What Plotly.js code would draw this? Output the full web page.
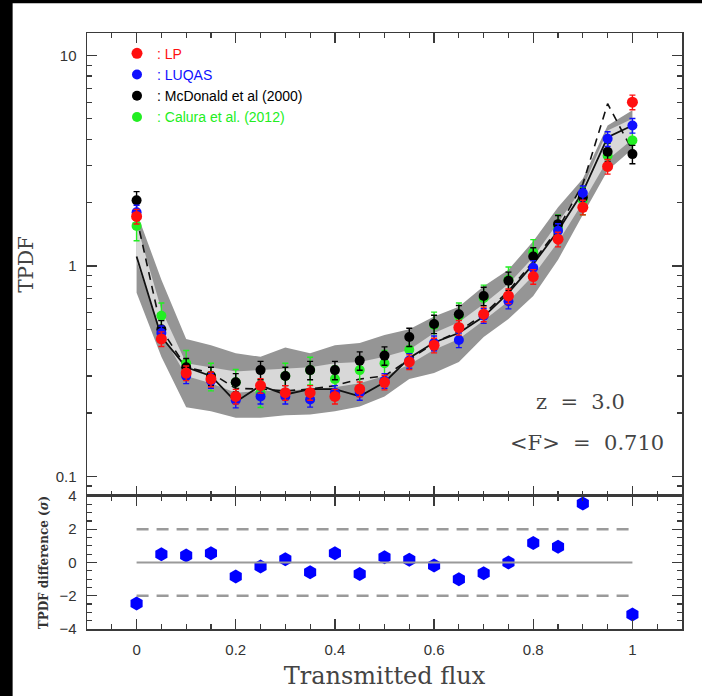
<!DOCTYPE html>
<html><head><meta charset="utf-8">
<script src="https://cdn.plot.ly/plotly-3.0.1.min.js"></script>
<style>html,body{margin:0;padding:0;background:#000;}</style>
</head><body><div id="chart" style="width:702px;height:696px;"></div>
<script>
// ---------- data ----------
const flux = [0,0.05,0.1,0.15,0.2,0.25,0.3,0.35,0.4,0.45,0.5,0.55,0.6,0.65,0.7,0.75,0.8,0.85,0.9,0.95,1.0];

const lpTPDF      = [1.72,0.45,0.31,0.29,0.24,0.27,0.25,0.25,0.24,0.26,0.28,0.35,0.42,0.51,0.59,0.72,0.89,1.34,1.90,2.97,6.0];
const luqasTPDF   = [1.80,0.48,0.30,0.285,0.23,0.24,0.24,0.232,0.25,0.25,0.285,0.355,0.43,0.445,0.58,0.68,0.98,1.47,2.22,4.02,4.65];
const mcdTPDF     = [2.05,0.50,0.33,0.30,0.28,0.32,0.30,0.32,0.32,0.355,0.375,0.46,0.53,0.59,0.72,0.85,1.11,1.58,2.12,3.49,3.40];
const caluraTPDF  = [1.55,0.58,0.345,0.30,0.28,0.25,0.30,0.32,0.29,0.32,0.345,0.40,0.525,0.58,0.705,0.86,1.16,1.52,2.06,3.34,3.95];

const modelSolid  = [1.11,0.46,0.33,0.30,0.226,0.27,0.245,0.26,0.26,0.24,0.28,0.365,0.433,0.48,0.575,0.745,1.02,1.47,2.25,4.09,4.65];
const modelDashed = [1.70,0.50,0.33,0.31,0.262,0.26,0.255,0.26,0.27,0.29,0.30,0.36,0.43,0.49,0.59,0.76,1.05,1.50,2.45,5.90,3.53];

const darkUpper   = [1.80,0.86,0.45,0.42,0.385,0.37,0.41,0.385,0.42,0.43,0.47,0.50,0.575,0.64,0.80,0.96,1.31,1.90,2.60,4.65,5.5];
const darkLower   = [0.745,0.37,0.213,0.204,0.19,0.19,0.195,0.197,0.204,0.215,0.24,0.29,0.31,0.35,0.46,0.56,0.72,1.07,1.75,2.84,3.6];
const lightUpper  = [1.58,0.62,0.345,0.33,0.315,0.32,0.325,0.33,0.345,0.35,0.37,0.40,0.48,0.54,0.66,0.82,1.10,1.60,2.35,4.4,5.0];
const lightLower  = [1.05,0.48,0.30,0.277,0.25,0.255,0.255,0.26,0.265,0.277,0.30,0.34,0.40,0.45,0.55,0.68,0.90,1.30,2.0,3.2,4.0];

// percent errors per series
const errLP = 8, errLUQAS = 8, errMcD = 10, errCalura = 15;

const diffFlux  = [0,0.05,0.1,0.15,0.2,0.25,0.3,0.35,0.4,0.45,0.5,0.55,0.6,0.65,0.7,0.75,0.8,0.85,0.9,1.0];
const diffSigma = [-2.46,0.5,0.42,0.55,-0.85,-0.24,0.2,-0.59,0.55,-0.69,0.32,0.16,-0.18,-1.01,-0.65,0.0,1.17,0.95,3.54,-3.13];

const refSolid = [0];
const refDashed = [2,-2];

const seriesNames = [': LP', ': LUQAS', ': McDonald et al (2000)', ': Calura et al. (2012)'];
const seriesColors = ['#ff1010', '#1010ff', '#000000', '#22ee22'];

// ---------- traces ----------
const bandLine = {width:0};
const traces = [
  {x:flux, y:darkLower, mode:'lines', line:bandLine, showlegend:false, hoverinfo:'skip'},
  {x:flux, y:darkUpper, mode:'lines', line:bandLine, fill:'tonexty', fillcolor:'#959595', showlegend:false, hoverinfo:'skip'},
  {x:flux, y:lightLower, mode:'lines', line:bandLine, showlegend:false, hoverinfo:'skip'},
  {x:flux, y:lightUpper, mode:'lines', line:bandLine, fill:'tonexty', fillcolor:'#d8d8d8', showlegend:false, hoverinfo:'skip'},
  {x:flux, y:modelSolid, mode:'lines', line:{color:'#111', width:1.8}, showlegend:false},
  {x:flux, y:modelDashed, mode:'lines', line:{color:'#111', width:1.6, dash:'8px,6px'}, showlegend:false}
];

function series(y, idx, err, size, rank){
  return {x:flux, y:y, mode:'markers', type:'scatter',
    name:'<span style="color:'+seriesColors[idx]+'">'+seriesNames[idx]+'</span>',
    legendrank: rank,
    marker:{color:seriesColors[idx], size:size},
    error_y:{type:'percent', value:err, color:seriesColors[idx], thickness:1.4, width:3}};
}
traces.push(series(caluraTPDF, 3, errCalura, 10, 4));
traces.push(series(mcdTPDF, 2, errMcD, 10, 3));
traces.push(series(luqasTPDF, 1, errLUQAS, 10, 2));
traces.push(series(lpTPDF, 0, errLP, 11, 1));

traces.push({x:diffFlux, y:diffSigma, xaxis:'x2', yaxis:'y2', mode:'markers',
  marker:{symbol:'hexagon', color:'#0000ff', size:14}, showlegend:false});

// ---------- layout ----------
const tickFont = {family:'Liberation Sans, Arial, sans-serif', size:15, color:'#333'};
const axCol = '#3a3a3a';
const xCommon = {range:[-0.1,1.1], tick0:0, dtick:0.2, ticks:'inside', ticklen:10, tickwidth:1.2, tickcolor:axCol,
  showline:true, linecolor:axCol, linewidth:1.5, mirror:'allticks', showgrid:false, zeroline:false,
  minor:{tick0:0, dtick:0.05, ticks:'inside', ticklen:5, tickwidth:1.2, tickcolor:axCol, showgrid:false},
  tickfont:tickFont};

const shapes = [
  {type:'rect', xref:'paper', yref:'paper', x0:-0.125, x1:1.04, y0:-0.12, y1:1.05, fillcolor:'#ffffff', line:{width:0}, layer:'below'}
];
refSolid.forEach(v => shapes.push({type:'line', xref:'x2', yref:'y2', x0:0, x1:1, y0:v, y1:v, line:{color:'#9a9a9a', width:2}}));
refDashed.forEach(v => shapes.push({type:'line', xref:'x2', yref:'y2', x0:0, x1:1, y0:v, y1:v, line:{color:'#9a9a9a', width:2.5, dash:'12px,8px'}}));

const layout = {
  width:702, height:696,
  paper_bgcolor:'#000000', plot_bgcolor:'#ffffff',
  margin:{l:87, r:20, t:33, b:67},
  showlegend:true,
  legend:{x:0.0504, y:0.992, xanchor:'left', yanchor:'top', bgcolor:'rgba(0,0,0,0)', traceorder:'normal',
    font:{family:'Liberation Sans, Arial, sans-serif', size:14}, tracegroupgap:0, itemwidth:30},
  xaxis:Object.assign({}, xCommon, {domain:[0,1], anchor:'y', showticklabels:false}),
  xaxis2:Object.assign({}, xCommon, {domain:[0,1], anchor:'y2', matches:'x', showticklabels:true,
    ticklabelstandoff:6,
    title:{text:'Transmitted flux', font:{family:'DejaVu Serif, serif', size:24, color:'#444'}, standoff:10}}),
  yaxis:{type:'log', domain:[0.2232,1], range:[-1.093,1.107], anchor:'x', tick0:0, dtick:1,
    ticks:'inside', ticklen:10, tickwidth:1.2, tickcolor:axCol, showline:true, linecolor:axCol, linewidth:1.5,
    mirror:'allticks', showgrid:false, zeroline:false, tickfont:tickFont, ticklabelstandoff:6,
    minor:{dtick:'D1', ticks:'inside', ticklen:5, tickwidth:1.2, tickcolor:axCol, showgrid:false},
    title:{text:'TPDF', font:{family:'DejaVu Serif, serif', size:20, color:'#444'}, standoff:16}},
  yaxis2:{domain:[0,0.2232], range:[-4,4], anchor:'x2', tick0:0, dtick:2,
    ticks:'inside', ticklen:10, tickwidth:1.2, tickcolor:axCol, showline:true, linecolor:axCol, linewidth:1.5,
    mirror:'allticks', showgrid:false, zeroline:false, tickfont:tickFont, ticklabelstandoff:6,
    minor:{tick0:0, dtick:0.5, ticks:'inside', ticklen:5, tickwidth:1.2, tickcolor:axCol, showgrid:false},
    title:{text:'<b>TPDF difference (<i>σ</i>)</b>', font:{family:'DejaVu Serif, serif', size:12, color:'#333'}, standoff:8}},
  shapes:shapes,
  annotations:[
    {xref:'paper', yref:'paper', x:0.8286, y:0.3809, xanchor:'center', yanchor:'middle', showarrow:false,
      text:'z\u00a0\u00a0=\u00a0\u00a03.0', font:{family:'DejaVu Serif, serif', size:21, color:'#444'}},
    {xref:'paper', yref:'paper', x:0.8403, y:0.3121, xanchor:'center', yanchor:'middle', showarrow:false,
      text:'&lt;F&gt;\u00a0\u00a0=\u00a0\u00a00.710', font:{family:'DejaVu Serif, serif', size:21, color:'#444'}}
  ]
};

Plotly.newPlot('chart', traces, layout, {staticPlot:true, displayModeBar:false});
</script></body></html>
